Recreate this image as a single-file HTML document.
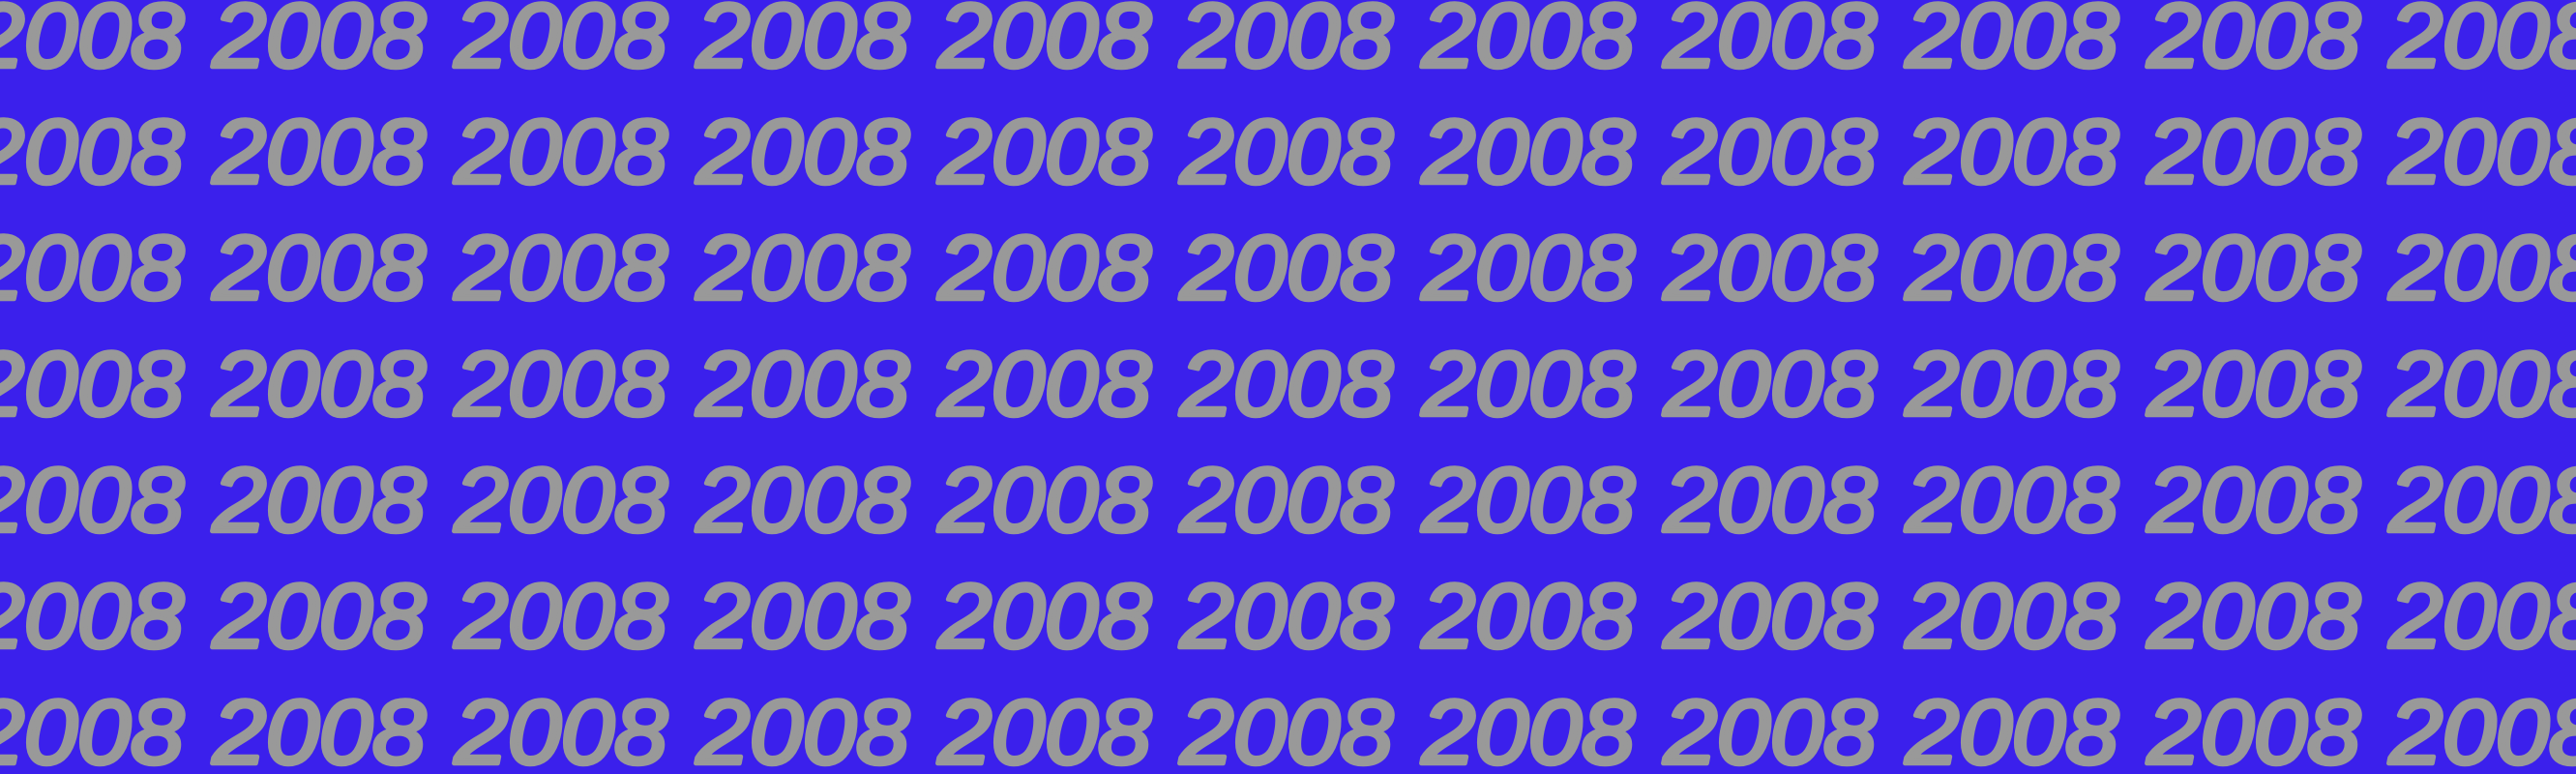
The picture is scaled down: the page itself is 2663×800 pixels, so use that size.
<!DOCTYPE html>
<html><head><meta charset="utf-8"><style>
html,body{margin:0;padding:0;background:#3b20ec;overflow:hidden}
svg{display:block}
text{font-family:"Liberation Sans",sans-serif;font-weight:normal;font-style:italic;font-size:94px;fill:#999999;stroke:#999999;stroke-width:4.5;stroke-linejoin:round}
</style></head><body>
<svg id="s" width="2663" height="800" xmlns="http://www.w3.org/2000/svg">
<rect width="2663" height="800" fill="#3b20ec"/>
</svg>
<script>
const label = "2008";
const rows = [0,1,2,3,4,5,6];
const cols = [0,1,2,3,4,5,6,7,8,9,10,11];
const s = document.getElementById('s');
rows.forEach(r => cols.forEach(c => {
  const t = document.createElementNS('http://www.w3.org/2000/svg','text');
  t.setAttribute('x', -30 + c*250);
  t.setAttribute('y', 69 + r*120);
  t.setAttribute('textLength', 220);
  t.setAttribute('lengthAdjust', 'spacingAndGlyphs');
  t.textContent = label;
  
  
  s.appendChild(t);
}));
</script>
</body></html>
